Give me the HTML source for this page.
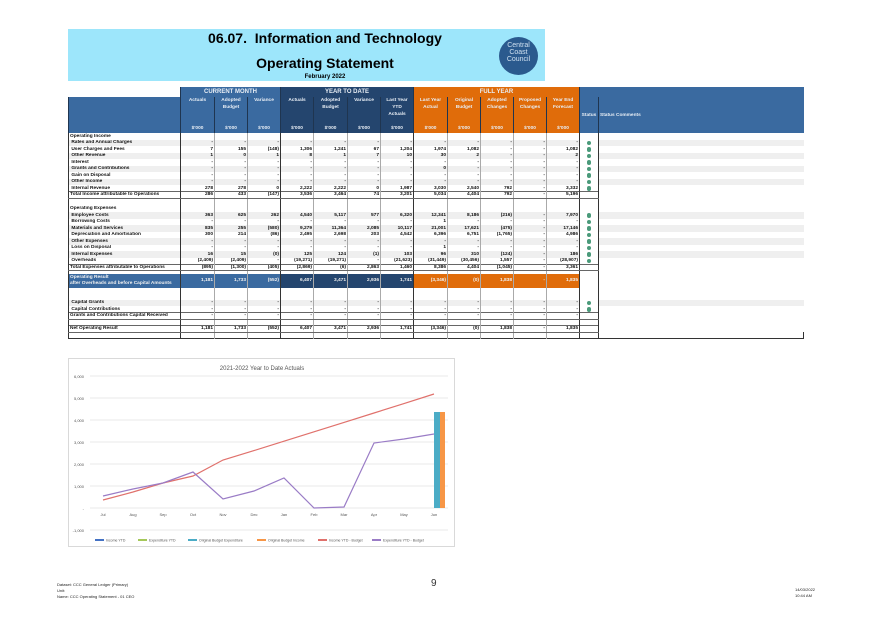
<!DOCTYPE html>
<html><head><meta charset="utf-8"><style>
body{margin:0;width:874px;height:618px;background:#fff;position:relative;overflow:hidden;font-family:"Liberation Sans",sans-serif}
.band{position:absolute;left:68px;top:29px;width:477px;height:52px;background:#9de6fb}
.t1{position:absolute;left:68px;width:514px;text-align:center;font-weight:bold;color:#000}
.logo{position:absolute;left:499px;top:37px;width:39px;height:38px;border-radius:50%;background:#2b5a8e;color:#cfe0f0;font-size:7px;line-height:7px;text-align:center;padding-top:5px;box-sizing:border-box}
table{position:absolute;left:68px;top:87px;border-collapse:collapse;table-layout:fixed;font-size:4.8px;font-weight:bold;color:#111}
tr{height:6.5px}
td{padding:0 1px;white-space:nowrap;overflow:hidden;text-align:right;border-left:1px solid #aaa;line-height:5px}
td.l{text-align:left;border-left:1px solid #333}
td.k{border-left:1.5px solid #333}
tr.h td{color:#e8eef5;text-align:center;vertical-align:top;border-left:1px solid #1f3550;line-height:7px}
.cm{background:#3a6aa0}.ytd{background:#24456e}.fy{background:#e06c0a}
tr.g td.c{background:#efefef}
tr.tot td{border-top:1px solid #666;border-bottom:1px solid #666}
.dot{display:inline-block;width:4.5px;height:4.5px;border-radius:50%;background:#4a9a7a;vertical-align:top;margin-top:0.5px}
td.s{text-align:center}
tr.or td{color:#f0f0f0;line-height:6px}
.ft{position:absolute;font-size:4px;color:#222;line-height:6px}
</style></head><body>
<div class="band"></div>
<div class="t1" style="top:30px;font-size:14px">06.07.&nbsp; Information and Technology</div>
<div class="t1" style="top:55px;font-size:14px">Operating Statement</div>
<div class="t1" style="top:74px;font-size:6px">February 2022</div>
<div class="logo">Central<br>Coast<br>Council</div>

<table>
<colgroup><col style="width:112px"><col style="width:34px"><col style="width:33px"><col style="width:33px"><col style="width:33px"><col style="width:34px"><col style="width:33px"><col style="width:33px"><col style="width:34px"><col style="width:33px"><col style="width:33px"><col style="width:33px"><col style="width:33px"><col style="width:19px"><col style="width:205px"></colgroup>
<tr class="h" style="height:10px"><td style="background:#fff;border:none"></td><td colspan="3" class="cm" style="font-size:6px;line-height:10px">CURRENT MONTH</td><td colspan="4" class="ytd" style="font-size:6px;line-height:10px">YEAR TO DATE</td><td colspan="5" class="fy" style="font-size:6px;line-height:10px">FULL YEAR</td><td colspan="2" class="cm"></td></tr>
<tr class="h" style="height:36px"><td class="cm"></td><td class="cm">Actuals<br><br><br><br>$'000</td><td class="cm">Adopted<br>Budget<br><br><br>$'000</td><td class="cm">Variance<br><br><br><br>$'000</td><td class="ytd">Actuals<br><br><br><br>$'000</td><td class="ytd">Adopted<br>Budget<br><br><br>$'000</td><td class="ytd">Variance<br><br><br><br>$'000</td><td class="ytd">Last Year<br>YTD<br>Actuals<br><br>$'000</td><td class="fy">Last Year<br>Actual<br><br><br>$'000</td><td class="fy">Original<br>Budget<br><br><br>$'000</td><td class="fy">Adopted<br>Changes<br><br><br>$'000</td><td class="fy">Proposed<br>Changes<br><br><br>$'000</td><td class="fy">Year End<br>Forecast<br><br><br>$'000</td><td class="cm" style="vertical-align:middle">Status</td><td class="cm" style="vertical-align:middle;text-align:left">Status Comments</td></tr>
<tr><td class="l">Operating Income</td><td class="k"></td><td></td><td></td><td class="k"></td><td></td><td></td><td></td><td class="k"></td><td></td><td></td><td></td><td></td><td class="k"></td><td class="k"></td></tr>
<tr class="g"><td class="l c">&nbsp;Rates and Annual Charges</td><td class="k c">-</td><td class="c">-</td><td class="c">-</td><td class="k c">-</td><td class="c">-</td><td class="c">-</td><td class="c">-</td><td class="k c">-</td><td class="c">-</td><td class="c">-</td><td class="c">-</td><td class="c">-</td><td class="k s"><span class="dot"></span></td><td class="k c"></td></tr>
<tr><td class="l">&nbsp;User Charges and Fees</td><td class="k">7</td><td>155</td><td>(148)</td><td class="k">1,306</td><td>1,241</td><td>67</td><td>1,204</td><td class="k">1,974</td><td>1,082</td><td>-</td><td>-</td><td>1,082</td><td class="k s"><span class="dot"></span></td><td class="k"></td></tr>
<tr class="g"><td class="l c">&nbsp;Other Revenue</td><td class="k c">1</td><td class="c">0</td><td class="c">1</td><td class="k c">8</td><td class="c">1</td><td class="c">7</td><td class="c">10</td><td class="k c">30</td><td class="c">2</td><td class="c">-</td><td class="c">-</td><td class="c">2</td><td class="k s"><span class="dot"></span></td><td class="k c"></td></tr>
<tr><td class="l">&nbsp;Interest</td><td class="k">-</td><td>-</td><td>-</td><td class="k">-</td><td>-</td><td>-</td><td>-</td><td class="k">-</td><td>-</td><td>-</td><td>-</td><td>-</td><td class="k s"><span class="dot"></span></td><td class="k"></td></tr>
<tr class="g"><td class="l c">&nbsp;Grants and Contributions</td><td class="k c">-</td><td class="c">-</td><td class="c">-</td><td class="k c">-</td><td class="c">-</td><td class="c">-</td><td class="c">-</td><td class="k c">0</td><td class="c">-</td><td class="c">-</td><td class="c">-</td><td class="c">-</td><td class="k s"><span class="dot"></span></td><td class="k c"></td></tr>
<tr><td class="l">&nbsp;Gain on Disposal</td><td class="k">-</td><td>-</td><td>-</td><td class="k">-</td><td>-</td><td>-</td><td>-</td><td class="k">-</td><td>-</td><td>-</td><td>-</td><td>-</td><td class="k s"><span class="dot"></span></td><td class="k"></td></tr>
<tr class="g"><td class="l c">&nbsp;Other Income</td><td class="k c">-</td><td class="c">-</td><td class="c">-</td><td class="k c">-</td><td class="c">-</td><td class="c">-</td><td class="c">-</td><td class="k c">-</td><td class="c">-</td><td class="c">-</td><td class="c">-</td><td class="c">-</td><td class="k s"><span class="dot"></span></td><td class="k c"></td></tr>
<tr><td class="l">&nbsp;Internal Revenue</td><td class="k">278</td><td>278</td><td>0</td><td class="k">2,222</td><td>2,222</td><td>0</td><td>1,987</td><td class="k">3,030</td><td>2,540</td><td>792</td><td>-</td><td>3,332</td><td class="k s"><span class="dot"></span></td><td class="k"></td></tr>
<tr class="tot"><td class="l">Total Income attributable to Operations</td><td class="k">286</td><td>433</td><td>(147)</td><td class="k">3,536</td><td>3,464</td><td>74</td><td>3,201</td><td class="k">5,034</td><td>4,404</td><td>792</td><td>-</td><td>5,196</td><td class="k"></td><td class="k" style="border-top:none;border-bottom:none"></td></tr>
<tr style="height:7.5px"><td class="l"></td><td class="k"></td><td></td><td></td><td class="k"></td><td></td><td></td><td></td><td class="k"></td><td></td><td></td><td></td><td></td><td class="k"></td><td class="k"></td></tr>
<tr><td class="l">Operating Expenses</td><td class="k"></td><td></td><td></td><td class="k"></td><td></td><td></td><td></td><td class="k"></td><td></td><td></td><td></td><td></td><td class="k"></td><td class="k"></td></tr>
<tr class="g"><td class="l c">&nbsp;Employee Costs</td><td class="k c">363</td><td class="c">625</td><td class="c">262</td><td class="k c">4,540</td><td class="c">5,117</td><td class="c">577</td><td class="c">6,320</td><td class="k c">12,341</td><td class="c">8,186</td><td class="c">(216)</td><td class="c">-</td><td class="c">7,970</td><td class="k s"><span class="dot"></span></td><td class="k c"></td></tr>
<tr><td class="l">&nbsp;Borrowing Costs</td><td class="k">-</td><td>-</td><td>-</td><td class="k">-</td><td>-</td><td>-</td><td>-</td><td class="k">1</td><td>-</td><td>-</td><td>-</td><td>-</td><td class="k s"><span class="dot"></span></td><td class="k"></td></tr>
<tr class="g"><td class="l c">&nbsp;Materials and Services</td><td class="k c">835</td><td class="c">255</td><td class="c">(580)</td><td class="k c">9,279</td><td class="c">11,364</td><td class="c">2,085</td><td class="c">10,117</td><td class="k c">21,001</td><td class="c">17,621</td><td class="c">(475)</td><td class="c">-</td><td class="c">17,146</td><td class="k s"><span class="dot"></span></td><td class="k c"></td></tr>
<tr><td class="l">&nbsp;Depreciation and Amortisation</td><td class="k">300</td><td>214</td><td>(86)</td><td class="k">2,495</td><td>2,698</td><td>203</td><td>4,542</td><td class="k">6,396</td><td>6,751</td><td>(1,765)</td><td>-</td><td>4,986</td><td class="k s"><span class="dot"></span></td><td class="k"></td></tr>
<tr class="g"><td class="l c">&nbsp;Other Expenses</td><td class="k c">-</td><td class="c">-</td><td class="c">-</td><td class="k c">-</td><td class="c">-</td><td class="c">-</td><td class="c">-</td><td class="k c">-</td><td class="c">-</td><td class="c">-</td><td class="c">-</td><td class="c">-</td><td class="k s"><span class="dot"></span></td><td class="k c"></td></tr>
<tr><td class="l">&nbsp;Loss on Disposal</td><td class="k">-</td><td>-</td><td>-</td><td class="k">-</td><td>-</td><td>-</td><td>-</td><td class="k">1</td><td>-</td><td>-</td><td>-</td><td>-</td><td class="k s"><span class="dot"></span></td><td class="k"></td></tr>
<tr class="g"><td class="l c">&nbsp;Internal Expenses</td><td class="k c">16</td><td class="c">15</td><td class="c">(0)</td><td class="k c">125</td><td class="c">124</td><td class="c">(1)</td><td class="c">103</td><td class="k c">96</td><td class="c">310</td><td class="c">(124)</td><td class="c">-</td><td class="c">186</td><td class="k s"><span class="dot"></span></td><td class="k c"></td></tr>
<tr><td class="l">&nbsp;Overheads</td><td class="k">(2,409)</td><td>(2,409)</td><td>-</td><td class="k">(19,271)</td><td>(19,271)</td><td>-</td><td>(21,623)</td><td class="k">(31,449)</td><td>(30,456)</td><td>1,557</td><td>-</td><td>(28,907)</td><td class="k s"><span class="dot"></span></td><td class="k"></td></tr>
<tr class="tot"><td class="l">Total Expenses attributable to Operations</td><td class="k">(895)</td><td>(1,300)</td><td>(405)</td><td class="k">(2,869)</td><td>(6)</td><td>2,863</td><td>1,460</td><td class="k">8,386</td><td>4,404</td><td>(1,045)</td><td>-</td><td>3,361</td><td class="k"></td><td class="k" style="border-top:none;border-bottom:none"></td></tr>
<tr style="height:3px"><td class="l"></td><td class="k"></td><td></td><td></td><td class="k"></td><td></td><td></td><td></td><td class="k"></td><td></td><td></td><td></td><td></td><td class="k"></td><td class="k"></td></tr>
<tr class="or" style="height:14px"><td class="l cm" style="text-align:left">Operating Result<br>after Overheads and before Capital Amounts</td><td class="k cm">1,181</td><td class="cm">1,733</td><td class="cm">(552)</td><td class="k ytd">6,407</td><td class="ytd">3,471</td><td class="ytd">2,936</td><td class="ytd">1,741</td><td class="k fy">(3,346)</td><td class="fy">(0)</td><td class="fy">1,838</td><td class="fy">-</td><td class="fy">1,835</td><td class="k"></td><td class="k"></td></tr>
<tr style="height:12px"><td class="l"></td><td class="k"></td><td></td><td></td><td class="k"></td><td></td><td></td><td></td><td class="k"></td><td></td><td></td><td></td><td></td><td class="k"></td><td class="k"></td></tr>
<tr class="g"><td class="l c">&nbsp;Capital Grants</td><td class="k c">-</td><td class="c">-</td><td class="c">-</td><td class="k c">-</td><td class="c">-</td><td class="c">-</td><td class="c">-</td><td class="k c">-</td><td class="c">-</td><td class="c">-</td><td class="c">-</td><td class="c">-</td><td class="k s"><span class="dot"></span></td><td class="k c"></td></tr>
<tr><td class="l">&nbsp;Capital Contributions</td><td class="k">-</td><td>-</td><td>-</td><td class="k">-</td><td>-</td><td>-</td><td>-</td><td class="k">-</td><td>-</td><td>-</td><td>-</td><td>-</td><td class="k s"><span class="dot"></span></td><td class="k"></td></tr>
<tr class="tot"><td class="l">Grants and Contributions Capital Received</td><td class="k">-</td><td>-</td><td>-</td><td class="k">-</td><td>-</td><td>-</td><td>-</td><td class="k">-</td><td>-</td><td>-</td><td>-</td><td>-</td><td class="k"></td><td class="k" style="border-top:none;border-bottom:none"></td></tr>
<tr><td class="l"></td><td class="k"></td><td></td><td></td><td class="k"></td><td></td><td></td><td></td><td class="k"></td><td></td><td></td><td></td><td></td><td class="k"></td><td class="k"></td></tr>
<tr class="tot"><td class="l">Net Operating Result</td><td class="k">1,181</td><td>1,733</td><td>(552)</td><td class="k">6,407</td><td>3,471</td><td>2,936</td><td>1,741</td><td class="k">(3,346)</td><td>(0)</td><td>1,838</td><td>-</td><td>1,835</td><td class="k"></td><td class="k" style="border-top:none;border-bottom:none"></td></tr>
<tr style="height:6px;border-bottom:1px solid #333"><td class="l"></td><td class="k"></td><td></td><td></td><td class="k"></td><td></td><td></td><td></td><td class="k"></td><td></td><td></td><td></td><td></td><td class="k"></td><td class="k" style="border-right:1px solid #333"></td></tr>
</table>

<svg style="position:absolute;left:68px;top:358px" width="388" height="190" font-family="Liberation Sans, sans-serif">
<rect x="0.5" y="0.5" width="386" height="188" fill="#fff" stroke="#d9d9d9"/>
<text x="194" y="12" font-size="6" text-anchor="middle" fill="#555">2021-2022 Year to Date Actuals</text>
<g stroke="#e3e3e3" stroke-width="0.7">
<line x1="22" x2="380" y1="18" y2="18"/><line x1="22" x2="380" y1="40" y2="40"/><line x1="22" x2="380" y1="62" y2="62"/><line x1="22" x2="380" y1="84" y2="84"/><line x1="22" x2="380" y1="106" y2="106"/><line x1="22" x2="380" y1="128" y2="128"/><line x1="22" x2="380" y1="150" y2="150"/><line x1="22" x2="380" y1="172" y2="172"/></g>
<g font-size="4" fill="#555" text-anchor="end">
<text x="16" y="20">6,000</text><text x="16" y="42">5,000</text><text x="16" y="64">4,000</text><text x="16" y="86">3,000</text><text x="16" y="108">2,000</text><text x="16" y="130">1,000</text><text x="16" y="152">-</text><text x="16" y="174">-1,000</text></g>
<g font-size="4" fill="#555" text-anchor="middle">
<text x="35" y="158">Jul</text><text x="65" y="158">Aug</text><text x="95" y="158">Sep</text><text x="125" y="158">Oct</text><text x="155" y="158">Nov</text><text x="186" y="158">Dec</text><text x="216" y="158">Jan</text><text x="246" y="158">Feb</text><text x="276" y="158">Mar</text><text x="306" y="158">Apr</text><text x="336" y="158">May</text><text x="366" y="158">Jun</text></g>
<rect x="366" y="54" width="6" height="96" fill="#4bacc6"/><rect x="372" y="54" width="5" height="96" fill="#f79646"/>
<polyline fill="none" stroke="#e0716c" stroke-width="1.2" points="35,142 65,134 95,125 125,118 155,102 186,92.6 216,83.2 246,73.8 276,64.4 306,55 336,45.6 366,36"/>
<polyline fill="none" stroke="#9a7cc6" stroke-width="1.2" points="35,138 65,131 95,125 125,114 155,141 186,133 216,120 246,150 276,149 306,85 336,81 366,76"/>
<g font-size="3.5" fill="#555">
<rect x="27" y="181" width="9" height="2" fill="#4472c4"/><text x="38" y="183.5">Income YTD</text>
<rect x="70" y="181" width="9" height="2" fill="#a5c85a"/><text x="81" y="183.5">Expenditure YTD</text>
<rect x="120" y="181" width="9" height="2" fill="#4bacc6"/><text x="131" y="183.5">Original Budget Expenditure</text>
<rect x="189" y="181" width="9" height="2" fill="#f79646"/><text x="200" y="183.5">Original Budget Income</text>
<rect x="250" y="181" width="9" height="2" fill="#e0716c"/><text x="261" y="183.5">Income YTD - Budget</text>
<rect x="304" y="181" width="9" height="2" fill="#9a7cc6"/><text x="315" y="183.5">Expenditure YTD - Budget</text></g>
</svg>

<div class="ft" style="left:57px;top:582px">Dataset: CCC General Ledger (Primary)<br>Unit:<br>Name: CCC Operating Statement - 01 CEO</div>
<div style="position:absolute;left:431px;top:578px;font-size:10px;color:#333">9</div>
<div class="ft" style="left:795px;top:587px">14/03/2022<br>10:44 AM</div>
</body></html>
